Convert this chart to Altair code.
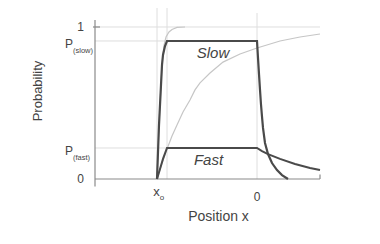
import altair as alt
import pandas as pd

# ---- data (x: position, 0 = origin, x0 = -1; y: probability) ----
P_SLOW = 0.908
P_FAST = 0.204
X0 = -1.0
X_MIN, X_MAX = -1.62, 0.63

slow_x = [-1.00, -0.99, -0.98, -0.97, -0.96, -0.95, -0.94, -0.92, -0.90, 0.00,
          0.01, 0.02, 0.03, 0.04, 0.05, 0.06, 0.08, 0.11, 0.15, 0.20, 0.25, 0.31]
slow_y = [0.0, 0.178, 0.355, 0.487, 0.618, 0.75, 0.816, 0.875, 0.908, 0.908,
          0.796, 0.69, 0.586, 0.49, 0.41, 0.336, 0.237, 0.164, 0.105, 0.059, 0.026, 0.0]

fast_x = [-1.00, -0.97, -0.94, -0.90, 0.00, 0.05, 0.11, 0.23, 0.38, 0.53, 0.63]
fast_y = [0.0, 0.066, 0.132, 0.204, 0.204, 0.184, 0.164, 0.132, 0.099, 0.072, 0.059]

gfast_x = [-1.00, -0.99, -0.98, -0.97, -0.96, -0.95, -0.94, -0.93, -0.91, -0.88, -0.85, -0.80, -0.72]
gfast_y = [0.0, 0.178, 0.355, 0.487, 0.618, 0.75, 0.82, 0.88, 0.935, 0.967, 0.984, 0.997, 1.0]

gslow_x = [-1.00, -0.95, -0.90, -0.85, -0.80, -0.74, -0.67, -0.62, -0.57, -0.47,
           -0.34, -0.17, 0.00, 0.23, 0.43, 0.63]
gslow_y = [0.0, 0.105, 0.197, 0.283, 0.355, 0.441, 0.52, 0.586, 0.632, 0.697,
           0.769, 0.822, 0.862, 0.908, 0.934, 0.954]

# reference lines: x, x2, y, y2
grid_x = [X_MIN, X_MIN, X_MIN, X0, -0.90, 0.0]
grid_x2 = [X_MAX, 0.0, 0.0, X0, -0.90, 0.0]
grid_y = [1.0, P_SLOW, P_FAST, 0.0, 0.0, 0.0]
grid_y2 = [1.0, P_SLOW, P_FAST, 1.145, 1.145, 1.092]

axis_x = [X_MIN, X_MIN, X_MAX, -1.64]
axis_x2 = [X_MIN, X_MAX, X_MAX, -1.57]
axis_y = [-0.05, 0.0, 0.0, 1.0]
axis_y2 = [1.046, 0.0, 0.03, 1.0]

ytick_text = ["1", "0"]
ytick_val = [1.0, 0.0]
p_text = ["P", "P"]
p_sub = ["(slow)", "(fast)"]
p_val = [P_SLOW, P_FAST]
curve_labels = ["Slow", "Fast"]
curve_label_x = [-0.44, -0.485]
curve_label_y = [0.829, 0.128]

XS = alt.Scale(domain=[X_MIN, X_MAX], nice=False, zero=False)
YS = alt.Scale(domain=[0, 1.046], nice=False, zero=False)
FONT = "Liberation Sans"
TXT = "#444444"


def xe(f="x"):
    return alt.X(f"{f}:Q", scale=XS, axis=None)


def ye(f="y"):
    return alt.Y(f"{f}:Q", scale=YS, axis=None)


grid = alt.Chart(pd.DataFrame({"x": grid_x, "x2": grid_x2, "y": grid_y, "y2": grid_y2})).mark_rule(
    color="#dedede", strokeWidth=1).encode(x=xe(), x2="x2:Q", y=ye(), y2="y2:Q")

axes = alt.Chart(pd.DataFrame({"x": axis_x, "x2": axis_x2, "y": axis_y, "y2": axis_y2})).mark_rule(
    color="#8a8a8a", strokeWidth=1.2).encode(x=xe(), x2="x2:Q", y=ye(), y2="y2:Q")


def line(xs, ys, color, w):
    df = pd.DataFrame({"x": xs, "y": ys, "i": range(len(xs))})
    return alt.Chart(df).mark_line(color=color, strokeWidth=w).encode(
        x=xe(), y=ye(), order="i:Q")


g_fast = line(gfast_x, gfast_y, "#c6c6c6", 1.2)
g_slow = line(gslow_x, gslow_y, "#c6c6c6", 1.2)
d_slow = line(slow_x, slow_y, "#4a4a4a", 2.2)
d_fast = line(fast_x, fast_y, "#4a4a4a", 2.0)

ytl = alt.Chart(pd.DataFrame({"t": ytick_text, "y": ytick_val, "x": [X_MIN] * 2})).mark_text(
    align="right", baseline="middle", dx=-11, fontSize=12, font=FONT, color=TXT).encode(
    x=xe(), y=ye(), text="t:N")

pdf = pd.DataFrame({"t": p_text, "s": p_sub, "y": p_val, "x": [X_MIN] * 2})
pl = alt.Chart(pdf).mark_text(align="left", baseline="middle", dx=-30, dy=3, fontSize=12,
                              font=FONT, color=TXT).encode(x=xe(), y=ye(), text="t:N")
ps = alt.Chart(pdf).mark_text(align="left", baseline="middle", dx=-22, dy=10, fontSize=7.5,
                              font=FONT, color=TXT).encode(x=xe(), y=ye(), text="s:N")

x0l = alt.Chart(pd.DataFrame({"t": ["x"], "x": [X0], "y": [0.0]})).mark_text(
    align="center", baseline="middle", dx=-0.5, dy=13, fontSize=13, font=FONT, color=TXT).encode(
    x=xe(), y=ye(), text="t:N")
x0s = alt.Chart(pd.DataFrame({"t": ["o"], "x": [X0], "y": [0.0]})).mark_text(
    align="center", baseline="middle", dx=5, dy=19, fontSize=8, font=FONT, color=TXT).encode(
    x=xe(), y=ye(), text="t:N")
zl = alt.Chart(pd.DataFrame({"t": ["0"], "x": [0.0], "y": [0.0]})).mark_text(
    align="center", baseline="middle", dy=18, fontSize=12, font=FONT, color=TXT).encode(
    x=xe(), y=ye(), text="t:N")
xt = alt.Chart(pd.DataFrame({"t": ["Position  x"], "x": [-0.385], "y": [0.0]})).mark_text(
    align="center", baseline="middle", dy=38, fontSize=14, font=FONT, color=TXT).encode(
    x=xe(), y=ye(), text="t:N")
yt = alt.Chart(pd.DataFrame({"t": ["Probability"], "x": [-2.19], "y": [0.579]})).mark_text(
    align="center", baseline="middle", angle=270, fontSize=13, font=FONT, color=TXT).encode(
    x=xe(), y=ye(), text="t:N")
cl = alt.Chart(pd.DataFrame({"t": curve_labels, "x": curve_label_x, "y": curve_label_y})).mark_text(
    align="center", baseline="middle", fontSize=15, fontStyle="italic", font=FONT, color=TXT).encode(
    x=xe(), y=ye(), text="t:N")

chart = alt.layer(grid, g_fast, g_slow, axes, d_fast, d_slow, ytl, pl, ps, x0l, x0s, zl, xt, yt, cl).properties(
    width=225, height=159,
    autosize=alt.AutoSizeParams(type="none"),
    padding={"left": 87, "top": 12, "right": 40, "bottom": 45},
    background="white",
).configure_view(stroke=None)

chart.save("out.html", embed_options={"renderer": "svg", "actions": False})
